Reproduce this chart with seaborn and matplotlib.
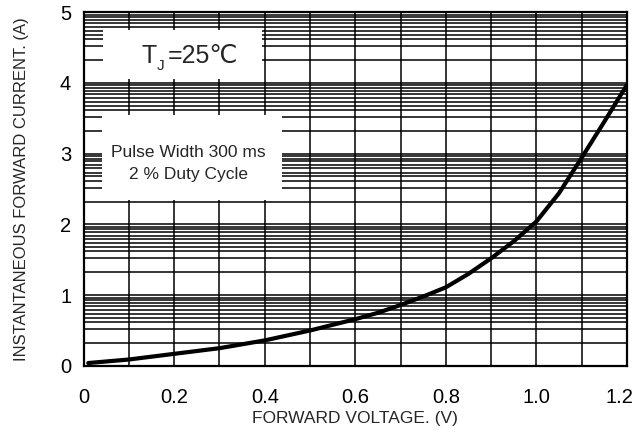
import matplotlib
matplotlib.use("Agg")
import matplotlib.pyplot as plt
import matplotlib.patches as mpatches
from matplotlib.transforms import ScaledTranslation
import numpy as np
import pandas as pd
import seaborn as sns

# curve
voltage = [0.01, 0.1, 0.2, 0.3, 0.4, 0.5, 0.6, 0.65, 0.7, 0.75, 0.8, 0.85,
           0.9, 0.95, 1.0, 1.05, 1.1, 1.15, 1.2]
current = [0.04, 0.09, 0.17, 0.25, 0.36, 0.50, 0.66, 0.75, 0.86, 0.98, 1.11,
           1.30, 1.52, 1.76, 2.04, 2.44, 2.94, 3.45, 3.97]

x_ticks = [0, 0.2, 0.4, 0.6, 0.8, 1.0, 1.2]
x_tick_labels = ["0", "0.2", "0.4", "0.6", "0.8", "1.0", "1.2"]
y_ticks = [0, 1, 2, 3, 4, 5]

# fractional positions of the dense horizontal rules inside each unit band
band_rules = [0.32, 0.52, 0.62, 0.68, 0.73, 0.79, 0.84, 0.89, 0.93, 0.965]

sns.set_style("white")
plt.rcParams["font.family"] = ["Liberation Sans", "DejaVu Sans"]

fig = plt.figure(figsize=(6.39, 4.34), dpi=100)
ax = fig.add_axes([0.131, 0.157, 0.850, 0.815])

df = pd.DataFrame({"voltage": voltage, "current": current})

# grid
for n in range(5):
    for f in [0] + band_rules:
        ax.axhline(n + f, color="black", lw=1.1, zorder=1)
for v in np.arange(0.1, 1.2, 0.1):
    ax.axvline(v, color="black", lw=1.1, zorder=1)

# white boxes that mask the grid behind the notes
ax.add_patch(mpatches.Rectangle((0.042, 4.05), 0.353, 0.70, facecolor="white",
                                edgecolor="none", zorder=2))
ax.add_patch(mpatches.Rectangle((0.040, 2.34), 0.397, 1.21, facecolor="white",
                                edgecolor="none", zorder=2))

sns.lineplot(data=df, x="voltage", y="current", color="black", lw=3,
             ax=ax, zorder=4)

# T_J = 25 ℃ built from pieces so the ℃ sign can fall back to DejaVu
t = ax.text(0.128, 4.21, "T", fontsize=18, ha="left", va="bottom", zorder=3)
j = ax.annotate("J", xy=(1, 0), xycoords=t, xytext=(0, -3.5),
                textcoords="offset points", fontsize=11, ha="left",
                va="bottom", zorder=3)
ax.annotate("=25℃", xy=(1, 0), xycoords=j, xytext=(2, 3.5),
            textcoords="offset points", fontsize=18, ha="left",
            va="bottom", zorder=3)

ax.text(0.232, 3.02, "Pulse Width 300 ms", fontsize=12.5,
        ha="center", va="center", zorder=3)
ax.text(0.232, 2.70, "2 % Duty Cycle", fontsize=12.5,
        ha="center", va="center", zorder=3)

ax.set_xlim(0, 1.2)
ax.set_ylim(0, 5)
ax.set_xticks(x_ticks)
ax.set_xticklabels(x_tick_labels)
ax.set_yticks(y_ticks)
ax.tick_params(axis="both", length=0, labelsize=14.5, colors="black")
ax.tick_params(axis="x", pad=16)
ax.tick_params(axis="y", pad=9)
last = ax.get_xticklabels()[-1]
last.set_transform(last.get_transform() + ScaledTranslation(-5 / 72, 0, fig.dpi_scale_trans))
for s in ax.spines.values():
    s.set_color("black")
    s.set_linewidth(1.6)
    s.set_zorder(5)

ax.set_xlabel("FORWARD VOLTAGE. (V)", fontsize=12.5, labelpad=3)
ax.set_ylabel("INSTANTANEOUS FORWARD CURRENT. (A)", fontsize=12, labelpad=22)

fig.savefig("out.png", dpi=100)
